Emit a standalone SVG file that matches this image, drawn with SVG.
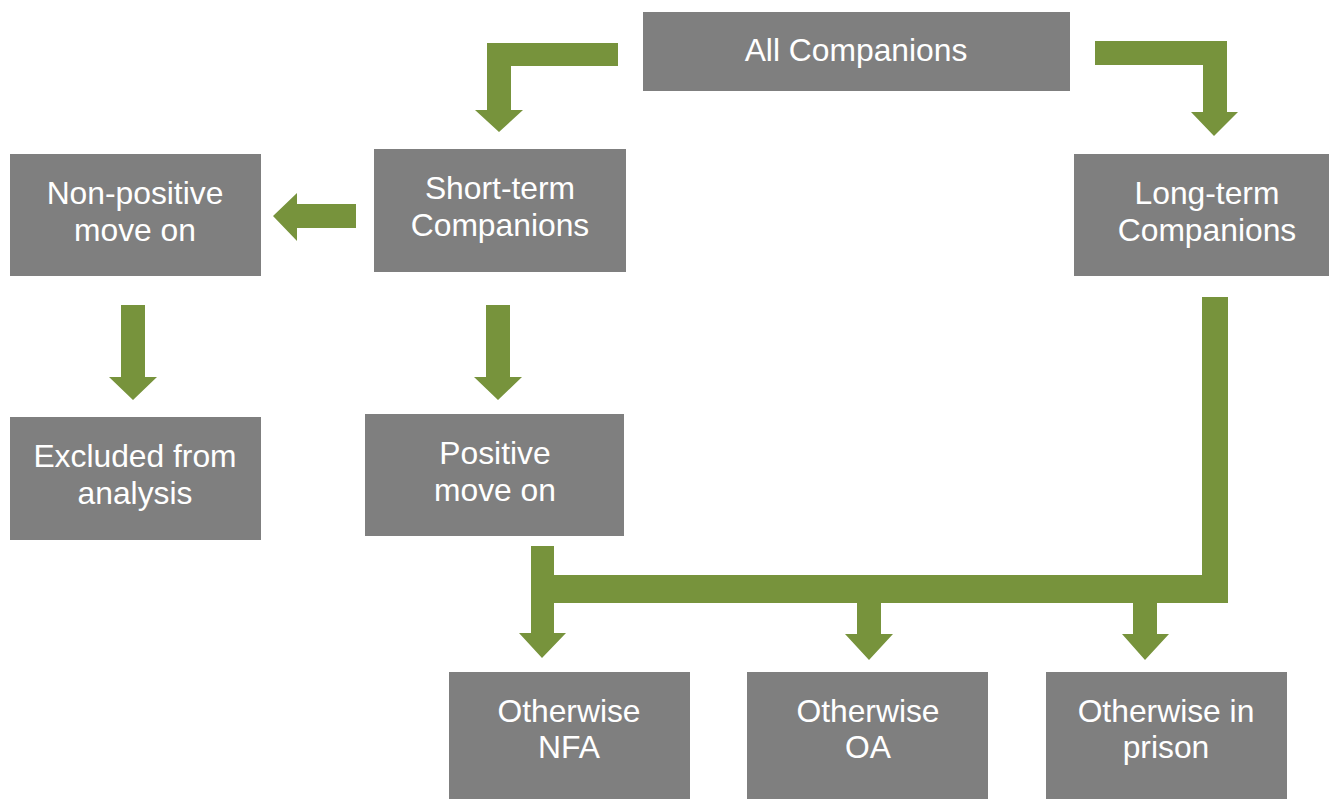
<svg xmlns="http://www.w3.org/2000/svg" width="1329" height="799" viewBox="0 0 1329 799">
<style>
.box{fill:#7f7f7f}
.lbl{fill:#ffffff;font-family:"Liberation Sans",Arial,sans-serif;font-size:31.8px;text-anchor:middle}
.arr{fill:#77933c}
</style>
<rect width="1329" height="799" fill="#ffffff"/>
<g id="connectors">
<path class="arr" d="M618,43 H487 V110 H475 L499,132 L523,110 H511 V66 H618 Z"/>
<path class="arr" d="M1095,41 H1227 V112 H1238 L1214,136 L1191,112 H1203 V65 H1095 Z"/>
<path class="arr" d="M356,204 H297 V193 L273,216 L297,241 V228 H356 Z"/>
<path class="arr" d="M486,305 H510 V377 H522 L498,400 L474,377 H486 Z"/>
<path class="arr" d="M121,305 H145 V377 H157 L133,400 L109,377 H121 Z"/>
<path class="arr" d="M531,546 H554 V575 H1202 V297 H1228 V603 H1157 V634 H1169 L1145,660 L1122,634 H1133 V603 H881 V634 H893 L869,660 L845,634 H857 V603 H554 V633 H566 L542,658 L519,633 H531 Z"/>
</g>
<g id="all">
<rect class="box" x="643" y="12" width="427" height="79"/>
<text class="lbl" x="856" y="61">All Companions</text>
</g>
<g id="nonpositive">
<rect class="box" x="10" y="154" width="251" height="122"/>
<text class="lbl" x="135" y="204">Non-positive</text>
<text class="lbl" x="135" y="241">move on</text>
</g>
<g id="shortterm">
<rect class="box" x="374" y="149" width="252" height="123"/>
<text class="lbl" x="500" y="199">Short-term</text>
<text class="lbl" x="500" y="236">Companions</text>
</g>
<g id="longterm">
<rect class="box" x="1074" y="154" width="255" height="122"/>
<text class="lbl" x="1207" y="204">Long-term</text>
<text class="lbl" x="1207" y="241">Companions</text>
</g>
<g id="excluded">
<rect class="box" x="10" y="417" width="251" height="123"/>
<text class="lbl" x="135" y="467">Excluded from</text>
<text class="lbl" x="135" y="504">analysis</text>
</g>
<g id="positive">
<rect class="box" x="365" y="414" width="259" height="122"/>
<text class="lbl" x="495" y="464">Positive</text>
<text class="lbl" x="495" y="501">move on</text>
</g>
<g id="nfa">
<rect class="box" x="449" y="672" width="241" height="127"/>
<text class="lbl" x="569" y="722">Otherwise</text>
<text class="lbl" x="569" y="758">NFA</text>
</g>
<g id="oa">
<rect class="box" x="747" y="672" width="241" height="127"/>
<text class="lbl" x="868" y="722">Otherwise</text>
<text class="lbl" x="868" y="758">OA</text>
</g>
<g id="prison">
<rect class="box" x="1046" y="672" width="241" height="127"/>
<text class="lbl" x="1166" y="722">Otherwise in</text>
<text class="lbl" x="1166" y="758">prison</text>
</g>
</svg>
